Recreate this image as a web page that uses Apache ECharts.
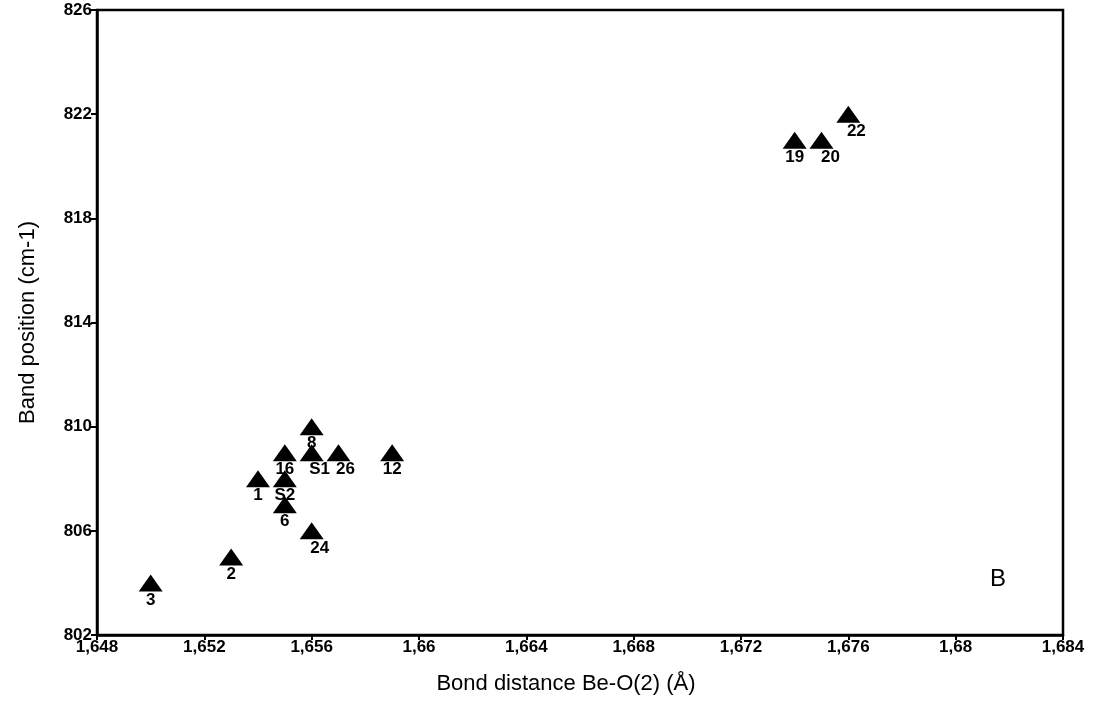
<!DOCTYPE html>
<html>
<head>
<meta charset="utf-8">
<script src="https://cdn.jsdelivr.net/npm/echarts@6/dist/echarts.min.js"></script>
<style>
html,body{margin:0;padding:0;background:#fff;}
#c{width:1104px;height:701px;}
</style>
</head>
<body>
<div id="c"></div>
<script>
const names = ['3','2','1','16','S2','6','8','S1','26','12','24','19','20','22'];
const bondDistance = [1.650,1.653,1.654,1.655,1.655,1.655,1.656,1.656,1.657,1.659,1.656,1.674,1.675,1.676];
const bandPosition = [804,805,808,809,808,807,810,809,809,809,806,821,821,822];
const xTicks = [1.648,1.652,1.656,1.66,1.664,1.668,1.672,1.676,1.68,1.684];
const yTicks = [802,806,810,814,818,822,826];
const panelLabel = 'B';

// label horizontal shift (style only)
const shiftRight = {'S1':8,'26':7,'24':8,'20':9,'22':8};

const chart = echarts.init(document.getElementById('c'));
const fmtX = v => parseFloat(v.toFixed(3)).toString().replace('.', ',');
const data = names.map((n,i)=>({
  value:[bondDistance[i], bandPosition[i]],
  name:n,
  label:{offset:[shiftRight[n]||0, 0]}
}));
chart.setOption({
  animation:false,
  backgroundColor:'#fff',
  grid:{left:97, right:41, top:10, bottom:66, show:true, borderColor:'#000', borderWidth:2.5},
  xAxis:{
    type:'value', min:xTicks[0], max:xTicks[xTicks.length-1], interval:0.004,
    name:'Bond distance Be-O(2) (Å)', nameLocation:'middle', nameGap:38,
    nameTextStyle:{fontFamily:'Liberation Sans', fontSize:22, color:'#000', padding:[0,28,0,0]},
    axisLine:{show:true, lineStyle:{color:'#000', width:2.5}},
    axisTick:{show:true, inside:false, length:5, lineStyle:{color:'#000', width:2}},
    axisLabel:{formatter:fmtX, color:'#000', fontFamily:'Liberation Sans', fontWeight:'bold', fontSize:17, margin:4},
    splitLine:{show:false}
  },
  yAxis:{
    type:'value', min:yTicks[0], max:yTicks[yTicks.length-1], interval:4,
    name:'Band position (cm-1)', nameLocation:'middle', nameGap:58, nameRotate:90,
    nameTextStyle:{fontFamily:'Liberation Sans', fontSize:22, color:'#000'},
    axisLine:{show:true, lineStyle:{color:'#000', width:2.5}},
    axisTick:{show:true, inside:false, length:6, lineStyle:{color:'#000', width:2}},
    axisLabel:{color:'#000', fontFamily:'Liberation Sans', fontWeight:'bold', fontSize:17, margin:5},
    splitLine:{show:false}
  },
  series:[{
    type:'scatter',
    symbol:'triangle',
    symbolSize:[24,17],
    itemStyle:{color:'#000', opacity:1},
    emphasis:{disabled:true},
    data:data,
    label:{
      show:true, position:'bottom', distance:0,
      formatter:p=>p.name,
      color:'#000', fontFamily:'Liberation Sans', fontWeight:'bold', fontSize:17
    }
  }],
  graphic:[{
    type:'text', left:990, top:567,
    style:{text:panelLabel, fontFamily:'Liberation Sans', fontSize:24, fill:'#000'}
  }]
});
</script>
</body>
</html>
